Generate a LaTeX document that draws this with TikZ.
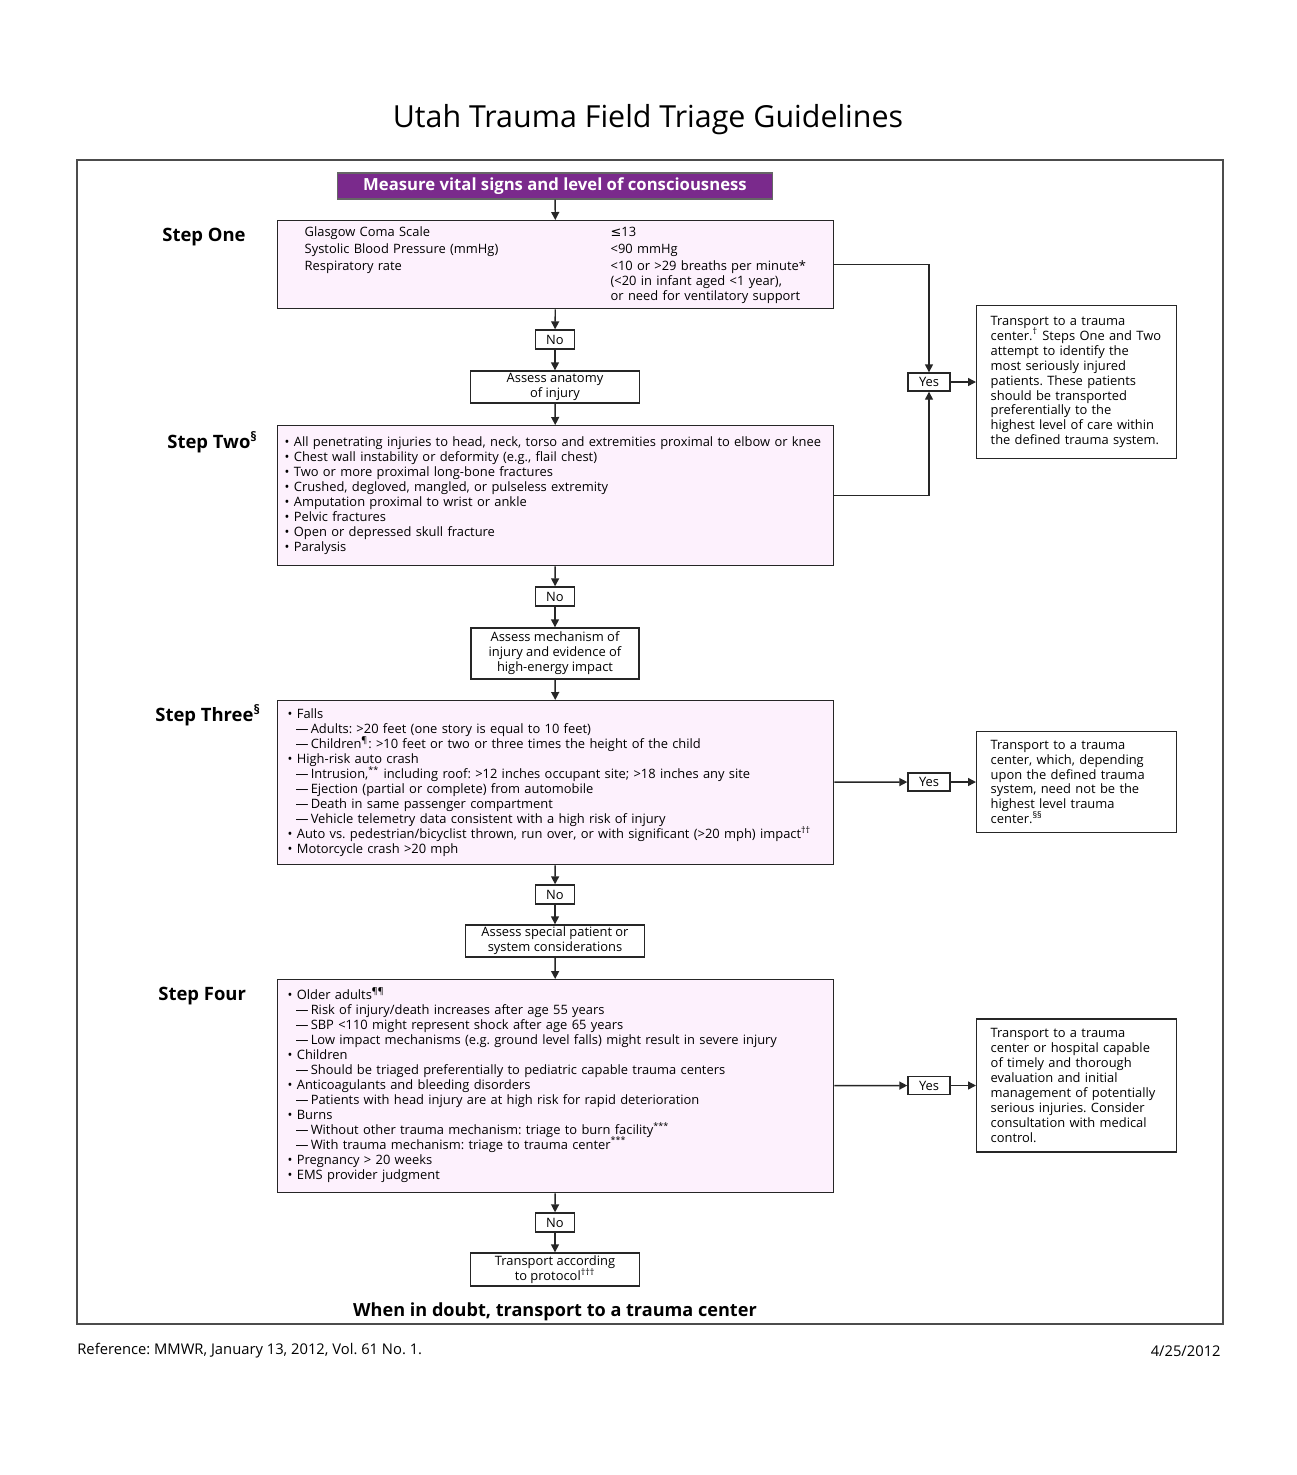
\documentclass[tikz,border=0pt]{standalone}
\usepackage{fontspec}
\setmainfont{Open Sans}
\newfontfamily\dejavu{DejaVu Sans}
\usetikzlibrary{arrows.meta}

\definecolor{boxpink}{RGB}{253,241,253}
\definecolor{headpurple}{RGB}{122,42,140}
\newcommand\fmark[1]{\smash{\textsuperscript{#1}}}
\newcommand\boxtext{\fontsize{7.35}{8.5}\selectfont}
\newcommand\subline{\hspace*{0.16cm}---\,}
\frenchspacing

\tikzset{
  stepbox/.style={draw=black!85, fill=boxpink, line width=0.8pt, anchor=north west, inner ysep=0pt, align=left, font=\boxtext},
  smallbox/.style={draw=black!85, fill=white, line width=0.8pt, inner sep=0pt, align=center, font=\boxtext},
  answer/.style={smallbox, minimum width=0.78cm, minimum height=0.38cm},
  goalbox/.style={draw=black!85, fill=white, line width=0.8pt, anchor=west, text width=3.44cm, inner xsep=0.28cm, inner ysep=0pt, align=left, font=\boxtext},
  steplabel/.style={anchor=west, inner sep=0pt, font=\fontsize{10.5}{12}\selectfont\bfseries},
  arr/.style={-{Triangle[length=1.6mm,width=1.6mm]}, line width=0.8pt, black!85}
}

\begin{document}
\begin{tikzpicture}[x=0.02cm, y=-0.02cm]
        \useasboundingbox (0,0) rectangle (1297,1475);
        \fill[white] (0,0) rectangle (1297,1475);

        %%%%%%%%%% Frame and texts %%%%%%%%%%
        \node[font=\fontsize{17.3}{20}\selectfont] (title) at (648,120) {Utah Trauma Field Triage Guidelines};
        \draw[line width=0.9pt, black!70] (77,160) rectangle (1223,1324);
        \node[font=\fontsize{10.3}{12}\selectfont\bfseries] (doubt) at (555,1312) {When in doubt, transport to a trauma center};
        \node[anchor=west, inner sep=0pt, font=\fontsize{8.4}{10}\selectfont] (reference) at (77,1351) {Reference: MMWR, January 13, 2012, Vol. 61 No. 1.};
        \node[anchor=east, inner sep=0pt, font=\fontsize{8.4}{10}\selectfont] (date) at (1221,1351) {4/25/2012};

        %%%%%%%%%% Step labels %%%%%%%%%%
        \node[steplabel] (labelone) at (162,237) {Step One};
        \node[steplabel] (labeltwo) at (167,444) {Step Two\fmark{\S}};
        \node[steplabel] (labelthree) at (155,717) {Step Three\fmark{\S}};
        \node[steplabel] (labelfour) at (158,996) {Step Four};

        %%%%%%%%%% Main column %%%%%%%%%%
        \node[fill=headpurple, draw=black!60, line width=0.8pt, text=white, inner sep=0pt,
              minimum width=8.7cm, minimum height=0.52cm,
              font=\fontsize{9.5}{11}\selectfont\bfseries] (measure) at (555,186)
              {Measure vital signs and level of consciousness};

        \node[stepbox, inner xsep=0.54cm, text width=10.04cm, minimum height=1.76cm] (stepone) at (277,220) {%
            \makebox[6.12cm][l]{Glasgow Coma Scale}{\dejavu ≤}13\\[1.2pt]
            \makebox[6.12cm][l]{Systolic Blood Pressure (mmHg)}<90 mmHg\\[1.2pt]
            \makebox[6.12cm][l]{Respiratory rate}<10 or >29 breaths per minute*\\
            \hspace*{6.12cm}(<20 in infant aged <1 year),\\
            \hspace*{6.12cm}or need for ventilatory support};
        \node[answer] (noone) at (555,339.5) {No};
        \node[smallbox, minimum width=3.38cm, minimum height=0.64cm] (anatomy) at (555,387) {Assess anatomy\\of injury};

        \node[stepbox, inner xsep=0.14cm, text width=10.84cm, minimum height=2.8cm] (steptwo) at (277,425) {%
            \textbullet\ All penetrating injuries to head, neck, torso and extremities proximal to elbow or knee\\
            \textbullet\ Chest wall instability or deformity (e.g., flail chest)\\
            \textbullet\ Two or more proximal long-bone fractures\\
            \textbullet\ Crushed, degloved, mangled, or pulseless extremity\\
            \textbullet\ Amputation proximal to wrist or ankle\\
            \textbullet\ Pelvic fractures\\
            \textbullet\ Open or depressed skull fracture\\
            \textbullet\ Paralysis};
        \node[answer] (notwo) at (555,596.5) {No};
        \node[smallbox, minimum width=3.36cm, minimum height=1.02cm] (mechanism) at (555,653.5) {Assess mechanism of\\injury and evidence of\\high-energy impact};

        \node[stepbox, inner xsep=0.2cm, text width=10.72cm, minimum height=3.28cm] (stepthree) at (277,700) {%
            \textbullet\ Falls\\
            \subline Adults: >20 feet (one story is equal to 10 feet)\\
            \subline Children\fmark{\P}: >10 feet or two or three times the height of the child\\
            \textbullet\ High-risk auto crash\\
            \subline Intrusion,\fmark{**} including roof: >12 inches occupant site; >18 inches any site\\
            \subline Ejection (partial or complete) from automobile\\
            \subline Death in same passenger compartment\\
            \subline Vehicle telemetry data consistent with a high risk of injury\\
            \textbullet\ Auto vs. pedestrian/bicyclist thrown, run over, or with significant (>20 mph) impact\fmark{\dag\dag}\\
            \textbullet\ Motorcycle crash >20 mph};
        \node[answer] (nothree) at (555,894.5) {No};
        \node[smallbox, minimum width=3.58cm, minimum height=0.64cm] (special) at (555,941) {Assess special patient or\\system considerations};

        \node[stepbox, inner xsep=0.2cm, text width=10.72cm, minimum height=4.26cm] (stepfour) at (277,979) {%
            \textbullet\ Older adults\fmark{\P\P}\\
            \subline Risk of injury/death increases after age 55 years\\
            \subline SBP <110 might represent shock after age 65 years\\
            \subline Low impact mechanisms (e.g. ground level falls) might result in severe injury\\
            \textbullet\ Children\\
            \subline Should be triaged preferentially to pediatric capable trauma centers\\
            \textbullet\ Anticoagulants and bleeding disorders\\
            \subline Patients with head injury are at high risk for rapid deterioration\\
            \textbullet\ Burns\\
            \subline Without other trauma mechanism: triage to burn facility\fmark{***}\\
            \subline With trauma mechanism: triage to trauma center\fmark{***}\\
            \textbullet\ Pregnancy > 20 weeks\\
            \textbullet\ EMS provider judgment};
        \node[answer] (nofour) at (555,1222.5) {No};
        \node[smallbox, minimum width=3.38cm, minimum height=0.66cm] (protocol) at (555,1269.5) {Transport according\\to protocol\fmark{\dag\dag\dag}};

        %%%%%%%%%% Right column %%%%%%%%%%
        \node[answer, minimum width=0.84cm, minimum height=0.36cm] (yesone) at (929,382) {Yes};
        \node[goalbox, minimum height=3.06cm] (transone) at (976,382) {%
            Transport to a trauma\\
            center.\fmark{\dag} Steps One and Two\\
            attempt to identify the\\
            most seriously injured\\
            patients. These patients\\
            should be transported\\
            preferentially to the\\
            highest level of care within\\
            the defined trauma system.};

        \node[answer, minimum width=0.84cm, minimum height=0.36cm] (yestwo) at (929,782) {Yes};
        \node[goalbox, minimum height=2.02cm] (transtwo) at (976,782) {%
            Transport to a trauma\\
            center, which, depending\\
            upon the defined trauma\\
            system, need not be the\\
            highest level trauma\\
            center.\fmark{\S\S}};

        \node[answer, minimum width=0.84cm, minimum height=0.36cm] (yesthree) at (929,1085.5) {Yes};
        \node[goalbox, minimum height=2.66cm] (transthree) at (976,1085.5) {%
            Transport to a trauma\\
            center or hospital capable\\
            of timely and thorough\\
            evaluation and initial\\
            management of potentially\\
            serious injuries. Consider\\
            consultation with medical\\
            control.};

        %%%%%%%%% Arrows %%%%%%%%%%
        \draw[arr] (measure) -- (stepone);
        \draw[arr] (stepone) -- (noone);
        \draw[arr] (noone) -- (anatomy);
        \draw[arr] (anatomy) -- (steptwo);
        \draw[arr] (steptwo) -- (notwo);
        \draw[arr] (notwo) -- (mechanism);
        \draw[arr] (mechanism) -- (stepthree);
        \draw[arr] (stepthree) -- (nothree);
        \draw[arr] (nothree) -- (special);
        \draw[arr] (special) -- (stepfour);
        \draw[arr] (stepfour) -- (nofour);
        \draw[arr] (nofour) -- (protocol);

        \draw[arr] (stepone.east) -| (yesone.north);
        \draw[arr] (steptwo.east) -| (yesone.south);
        \draw[arr] (yesone) -- (transone);
        \draw[arr] (stepthree) -- (yestwo);
        \draw[arr] (yestwo) -- (transtwo);
        \draw[arr] (stepfour) -- (yesthree);
        \draw[arr] (yesthree) -- (transthree);
    \end{tikzpicture}
\end{document}
